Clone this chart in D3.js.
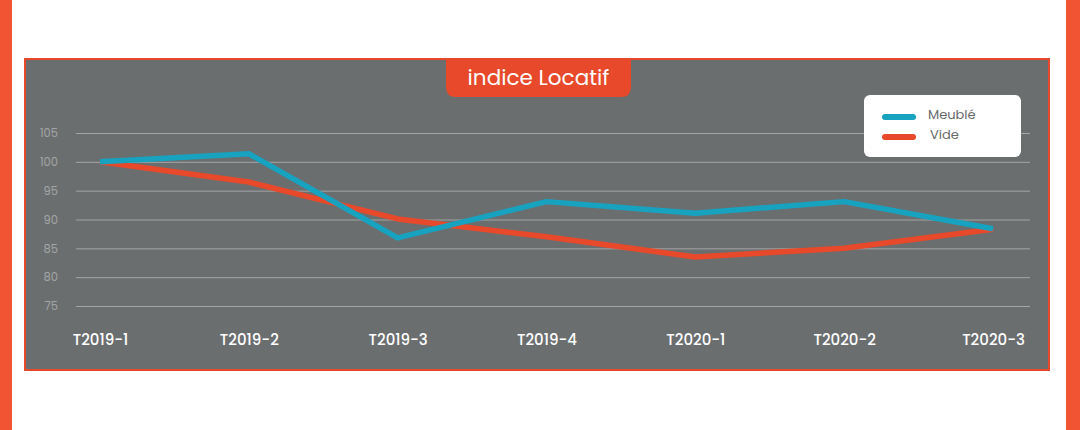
<!DOCTYPE html>
<html><head><meta charset="utf-8">
<script src="https://cdn.jsdelivr.net/npm/d3@7"></script>
<style>html,body{margin:0;padding:0;background:#fff;}svg{display:block;}</style>
</head><body>
<svg id="c" width="1080" height="430"></svg>
<script>
const categories = ["T2019-1","T2019-2","T2019-3","T2019-4","T2020-1","T2020-2","T2020-3"];
const meuble = [100, 101.4, 86.8, 93.1, 91.1, 93.1, 88.4];
const vide = [100, 96.5, 90.1, 87.0, 83.5, 85.0, 88.3];
const yTicks = [75, 80, 85, 90, 95, 100, 105];
const seriesNames = ["Meublé", "Vide"];
const colors = ["#17a2c0", "#e8492a"];
const title = "indice Locatif";

const svg = d3.select("#c");
const font = "Poppins, Inter, 'Open Sans', sans-serif";
svg.append("rect").attr("x",0).attr("y",0).attr("width",12).attr("height",430).attr("fill","#f05432");
svg.append("rect").attr("x",1066).attr("y",0).attr("width",14).attr("height",430).attr("fill","#f05432");
svg.append("rect").attr("x",25).attr("y",59).attr("width",1024).attr("height",311)
  .attr("fill","#6b6e6f").attr("stroke","#e8492a").attr("stroke-width",2);

const x = d3.scalePoint().domain(categories).range([100, 993]);
const y = d3.scaleLinear().domain([75, 105]).range([306, 133]);

const yAxis = d3.axisLeft(y).tickValues(yTicks).tickSize(-954).tickPadding(20);
const gy = svg.append("g").attr("transform","translate(76,0)").call(yAxis);
gy.select(".domain").remove();
gy.selectAll(".tick line").attr("stroke","#a3a5a6").attr("stroke-width",1);
gy.selectAll(".tick text").attr("fill","#a2a5a6").attr("font-size",11.5).attr("font-family",font)
  .attr("text-anchor","end").attr("x",-18);

const xAxis = d3.axisBottom(x).tickSize(0).tickPadding(0);
const gx = svg.append("g").attr("transform","translate(0,340)").call(xAxis);
gx.select(".domain").remove();
gx.selectAll(".tick text").attr("fill","#ffffff").attr("font-size",15).attr("font-weight",500)
  .attr("font-family",font).attr("dy","0.35em");

const line = d3.line().x((d,i)=>x(categories[i])).y(d=>y(d));
[vide, meuble].forEach((s,k)=>{
  const ci = k===0 ? 1 : 0;
  svg.append("path").datum(s).attr("d",line).attr("fill","none")
    .attr("stroke",colors[ci]).attr("stroke-width",5.5).attr("stroke-linejoin","round");
});

const tx=446, tw=185, ty=59, th=38, r=10;
svg.append("path").attr("d",`M${tx},${ty} L${tx+tw},${ty} L${tx+tw},${ty+th-r} Q${tx+tw},${ty+th} ${tx+tw-r},${ty+th} L${tx+r},${ty+th} Q${tx},${ty+th} ${tx},${ty+th-r} Z`)
  .attr("fill","#e8492a");
svg.append("text").attr("x",tx+tw/2).attr("y",ty+18).attr("dy","0.35em").attr("text-anchor","middle")
  .attr("fill","#fff").attr("font-size",21.5).attr("font-weight",400).attr("font-family",font).text(title);

svg.append("rect").attr("x",864).attr("y",95).attr("width",157).attr("height",62).attr("rx",6)
  .attr("fill","#ffffff");
seriesNames.forEach((n,i)=>{
  const ly = 117 + i*20;
  svg.append("line").attr("x1",885).attr("x2",913).attr("y1",ly).attr("y2",ly)
    .attr("stroke",colors[i]).attr("stroke-width",6).attr("stroke-linecap","round");
  svg.append("text").attr("x",i===0?928:930).attr("y",ly-3).attr("dy","0.35em")
    .attr("fill","#666a6b").attr("font-size",13).attr("font-family",font).text(n);
});
</script>
</body></html>
